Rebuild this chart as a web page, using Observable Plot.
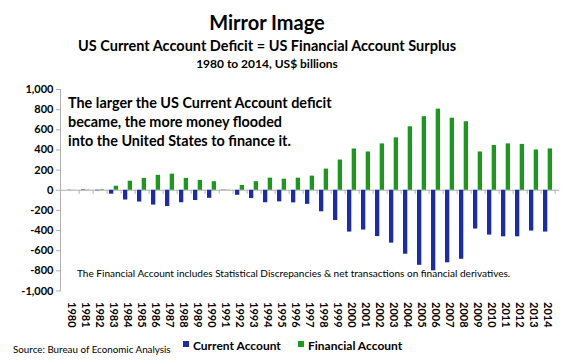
<!DOCTYPE html>
<html>
<head>
<meta charset="utf-8">
<script src="https://cdn.jsdelivr.net/npm/d3@7"></script>
<script src="https://cdn.jsdelivr.net/npm/@observablehq/plot@0.6"></script>
<style>
  html, body { margin: 0; padding: 0; background: #fff; }
  #wrap { position: relative; width: 581px; height: 363px; font-family: Lato, "Open Sans", sans-serif; color: #000; overflow: hidden; }
  #wrap .t { position: absolute; white-space: nowrap; line-height: 1; }
  #chart { position: absolute; left: 0; top: 0; }
  .sw { position: absolute; width: 6px; height: 6px; }
</style>
</head>
<body>
<div id="wrap">
  <div id="chart"></div>
  <div class="t" style="left:0;width:534px;text-align:center;top:11.5px;font-size:20px;font-weight:700;">Mirror Image</div>
  <div class="t" style="left:0;width:534px;text-align:center;top:38.5px;font-size:14.5px;font-weight:700;">US Current Account Deficit = US Financial Account Surplus</div>
  <div class="t" style="left:0;width:534px;text-align:center;top:57.5px;font-size:12px;font-weight:700;">1980 to 2014, US$ billions</div>
  <div class="t" style="left:68px;top:92.5px;font-size:14.4px;font-weight:700;line-height:19px;">The larger the US Current Account deficit<br>became, the more money flooded<br>into the United States to finance it.</div>
  <div class="t" style="left:77px;top:268px;font-size:10.05px;">The Financial Account includes Statistical Discrepancies &amp; net transactions on financial derivatives.</div>
  <div class="t" style="left:13px;top:345px;font-size:9.8px;">Source: Bureau of Economic Analysis</div>
  <div class="sw" style="left:183px;top:341px;background:#1c2ca8;"></div>
  <div class="t" style="left:193px;top:339.5px;font-size:12px;font-weight:700;">Current Account</div>
  <div class="sw" style="left:298px;top:341px;background:#1a9a1a;"></div>
  <div class="t" style="left:308px;top:339.5px;font-size:12px;font-weight:700;">Financial Account</div>
</div>
<script>
const years = ["1980","1981","1982","1983","1984","1985","1986","1987","1988","1989",
  "1990","1991","1992","1993","1994","1995","1996","1997","1998","1999",
  "2000","2001","2002","2003","2004","2005","2006","2007","2008","2009",
  "2010","2011","2012","2013","2014"];
const currentAccount = [2, 5, -5, -39, -97, -117, -147, -162, -124, -102,
  -80, 3, -50, -82, -124, -115, -125, -140, -214, -300,
  -415, -395, -460, -525, -635, -745, -800, -720, -685, -385,
  -445, -462, -462, -405, -415];
const financialAccount = [-1, 2, 5, 40, 90, 118, 148, 160, 118, 98,
  85, -2, 48, 85, 120, 110, 120, 140, 210, 300,
  410, 380, 460, 520, 630, 730, 805, 715, 680, 380,
  445, 460, 455, 400, 410];
const yTicks = [-1000, -800, -600, -400, -200, 0, 200, 400, 600, 800, 1000];

const caData = years.map((y, i) => ({year: y, value: currentAccount[i]}));
const faData = years.map((y, i) => ({year: y, value: financialAccount[i]}));

const width = 581, height = 363;
const marginLeft = 60, marginRight = 22, marginTop = 89, marginBottom = 72.5;
const pInner = 0.34, pOuter = 0.17;
const step = (width - marginLeft - marginRight) / (years.length - pInner + 2 * pOuter);
const half = step * (1 - pInner) / 2;
const fmt = d => (d < 0 ? "-" : "") + d3.format(",")(Math.abs(d));

const chart = Plot.plot({
  width, height, marginLeft, marginRight, marginTop, marginBottom,
  style: {fontFamily: "Lato, 'Open Sans', sans-serif", background: "transparent"},
  x: {type: "band", domain: years, paddingInner: pInner, paddingOuter: pOuter, axis: null},
  y: {domain: [-1000, 1000], axis: null},
  marks: [
    Plot.ruleY([0], {stroke: "#b0b0b0"}),
    Plot.ruleX(years, {x: d => d, y1: 0, y2: 0, insetBottom: -4, dx: step / 2, stroke: "#b0b0b0"}),
    Plot.barY(caData, {x: "year", y: "value", fill: "#1c2ca8", insetRight: half}),
    Plot.barY(faData, {x: "year", y: "value", fill: "#1a9a1a", insetLeft: half}),
    Plot.frame({anchor: "left", stroke: "#b0b0b0"}),
    Plot.axisY({ticks: yTicks, tickFormat: fmt, tickSize: 4, tickPadding: 3, stroke: "#b0b0b0", fill: "#000", fontWeight: "bold", fontSize: 11, label: null}),
    Plot.axisX({tickRotate: 90, tickSize: 0, tickPadding: 11, fill: "#000", fontWeight: "bold", fontSize: 11, label: null})
  ]
});
document.getElementById("chart").appendChild(chart);
</script>
</body>
</html>
